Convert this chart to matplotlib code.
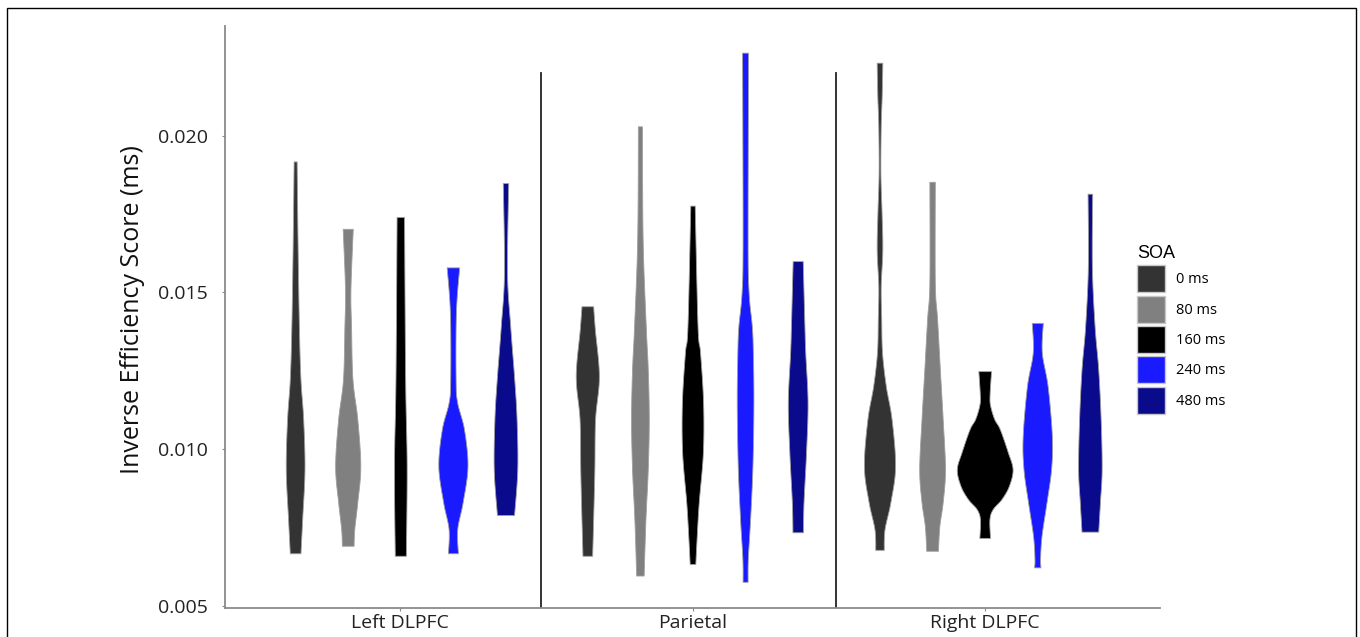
import matplotlib.pyplot as plt
import numpy as np
from matplotlib.patches import Patch, Rectangle

# categories
regions = ['Left DLPFC', 'Parietal', 'Right DLPFC']
soa_labels = ['0 ms', '80 ms', '160 ms', '240 ms', '480 ms']
soa_colors = ['#333333', '#808080', '#000000', '#1a1aff', '#0a0a8c']

# violin outlines: score (top -> bottom) and relative density
left_scores = [
    [0.01918, 0.01637, 0.01382, 0.01223, 0.01096, 0.00936, 0.00777, 0.00668],
    [0.01703, 0.01510, 0.01392, 0.01223, 0.01096, 0.00946, 0.00831, 0.00745, 0.00692],
    [0.01741, 0.01223, 0.00946, 0.00660],
    [0.01580, 0.01436, 0.01223, 0.01150, 0.01064, 0.00946, 0.00831, 0.00745, 0.00668],
    [0.01849, 0.01564, 0.01392, 0.01223, 0.01096, 0.00936, 0.00790],
]
left_density = [
    [1.5, 2.5, 3.8, 5.3, 8.0, 9.3, 7.0, 5.3],
    [5.0, 2.7, 3.3, 4.7, 9.5, 12.5, 9.5, 6.5, 5.8],
    [3.7, 4.8, 6.3, 5.5],
    [6.2, 3.0, 2.7, 4.2, 11.0, 14.5, 9.7, 4.3, 5.0],
    [2.7, 1.5, 4.7, 8.7, 11.0, 11.7, 8.5],
]

parietal_scores = [
    [0.01456, 0.01382, 0.01233, 0.01096, 0.00936, 0.00777, 0.00660],
    [0.02030, 0.01669, 0.01392, 0.01255, 0.01096, 0.00936, 0.00777, 0.00597],
    [0.01777, 0.01392, 0.01309, 0.01150, 0.00990, 0.00831, 0.00723, 0.00634],
    [0.02265, 0.01669, 0.01500, 0.01392, 0.01309, 0.01150, 0.00946, 0.00777, 0.00650, 0.00577],
    [0.01600, 0.01392, 0.01309, 0.01150, 0.00990, 0.00831, 0.00735],
]
parietal_density = [
    [5.8, 7.5, 11.5, 7.7, 7.0, 5.8, 4.8],
    [2.0, 2.7, 5.8, 7.8, 8.8, 7.8, 5.5, 3.7],
    [2.2, 5.0, 7.5, 10.5, 10.3, 6.2, 4.2, 2.8],
    [3.0, 2.5, 3.5, 6.7, 7.7, 8.3, 7.3, 5.0, 2.7, 2.5],
    [5.0, 6.7, 7.5, 9.8, 8.3, 5.8, 5.2],
]

right_scores = [
    [0.02233, 0.02130, 0.02030, 0.01880, 0.01761, 0.01637, 0.01520, 0.01414,
     0.01309, 0.01201, 0.01096, 0.00946, 0.00831, 0.00745, 0.00679],
    [0.01853, 0.01532, 0.01414, 0.01255, 0.01096, 0.00936, 0.00831, 0.00755, 0.00676],
    [0.01249, 0.01170, 0.01138, 0.01096, 0.01064, 0.00990, 0.00936, 0.00883,
     0.00841, 0.00809, 0.00777, 0.00717],
    [0.01403, 0.01309, 0.01201, 0.01041, 0.00936, 0.00831, 0.00723, 0.00650, 0.00623],
    [0.01815, 0.01582, 0.01392, 0.01255, 0.01096, 0.00936, 0.00831, 0.00737],
]
right_density = [
    [2.8, 2.2, 1.2, 0.9, 2.0, 2.8, 1.2, 1.7, 2.5, 6.3, 12.0, 15.5, 10.8, 5.0, 4.2],
    [2.7, 2.7, 5.0, 7.7, 10.5, 12.8, 10.5, 7.2, 5.8],
    [6.3, 4.8, 5.5, 9.5, 15.0, 23.0, 27.7, 24.0, 16.7, 8.0, 4.7, 5.3],
    [5.5, 4.5, 10.3, 14.5, 13.7, 9.2, 4.2, 2.8, 3.2],
    [2.3, 2.0, 4.7, 8.3, 10.7, 11.7, 10.0, 8.3],
]

# region separators (x position, top value)
separators = [1.48, 2.49]
separator_top = 0.0220

y_ticks = [0.005, 0.010, 0.015, 0.020]


def smooth_outline(v, d, n=10):
    # catmull-rom curve through the read outline points
    pts = np.column_stack([v, d])
    pts = np.vstack([pts[0], pts, pts[-1]])
    out = []
    t = np.linspace(0, 1, n, endpoint=False)[:, None]
    for i in range(1, len(pts) - 2):
        p0, p1, p2, p3 = pts[i - 1], pts[i], pts[i + 1], pts[i + 2]
        seg = 0.5 * (2 * p1 + (-p0 + p2) * t + (2 * p0 - 5 * p1 + 4 * p2 - p3) * t ** 2
                     + (-p0 + 3 * p1 - 3 * p2 + p3) * t ** 3)
        out.append(seg)
    out.append(pts[-2][None])
    out = np.vstack(out)
    return out[:, 0], np.clip(out[:, 1], 0.4, None)


def draw_figure():
    plt.rcParams['font.family'] = ['Open Sans', 'DejaVu Sans']

    fig = plt.figure(figsize=(13.6, 6.37), dpi=100)
    ax = fig.add_axes([225 / 1360, 1 - 607.5 / 637, 935 / 1360, (607.5 - 26) / 637])

    all_scores = [left_scores, parietal_scores, right_scores]
    all_density = [left_density, parietal_density, right_density]
    dmax = max(max(max(d) for d in grp) for grp in all_density)
    dodge = 0.18
    half_max = 0.0955

    for g, (scores, dens) in enumerate(zip(all_scores, all_density)):
        for k in range(5):
            xc = (g + 1) + (k - 2) * dodge
            vv, dd = smooth_outline(scores[k], dens[k])
            half = dd / dmax * half_max
            ax.fill_betweenx(vv, xc - half, xc + half, facecolor=soa_colors[k],
                             edgecolor='#a0a0a0', linewidth=0.6, zorder=3)

    for sx in separators:
        ax.plot([sx, sx], [0.00495, separator_top], color='#222222', lw=1.3, zorder=2)

    # axes
    ax.set_xlim(0.4, 3.6)
    ax.set_ylim(0.00495, 0.0235)
    ax.set_xticks([1, 2, 3])
    ax.set_xticklabels(regions, fontsize=14)
    ax.set_yticks(y_ticks)
    ax.set_yticklabels(['%.3f' % t for t in y_ticks], fontsize=14)
    for side in ['top', 'right']:
        ax.spines[side].set_visible(False)
    for side in ['left', 'bottom']:
        ax.spines[side].set_color('#8a8a8a')
        ax.spines[side].set_linewidth(1.3)
    ax.tick_params(axis='both', colors='#8a8a8a', length=2.5, width=0.8, labelcolor='#222222')
    ax.tick_params(axis='y', pad=10)
    ax.tick_params(axis='x', pad=2.5)
    ax.set_ylabel('Inverse Efficiency Score (ms)', fontsize=18, color='#111111')
    ax.yaxis.set_label_coords(-0.0856, 0.513)

    # legend
    handles = [Patch(facecolor=c, edgecolor='#c8c8c8', linewidth=1.0) for c in soa_colors]
    fig.legend(handles, soa_labels, title='SOA', loc='upper left',
               bbox_to_anchor=(1137 / 1360, 1 - 245 / 637), frameon=False,
               prop={'family': 'Open Sans', 'size': 10.5},
               title_fontproperties={'family': 'Liberation Sans', 'size': 13},
               handlelength=1.9, handleheight=2.47, labelspacing=0.23,
               handletextpad=0.8, borderpad=0, borderaxespad=0, alignment='left')

    # outer frame
    fig.add_artist(Rectangle((7 / 1360, -0.05), (1356 - 7) / 1360, 1 - 8 / 637 + 0.05,
                             transform=fig.transFigure, fill=False,
                             edgecolor='black', linewidth=1.0))

    fig.savefig('out.png', dpi=100)


if __name__ == '__main__':
    draw_figure()
